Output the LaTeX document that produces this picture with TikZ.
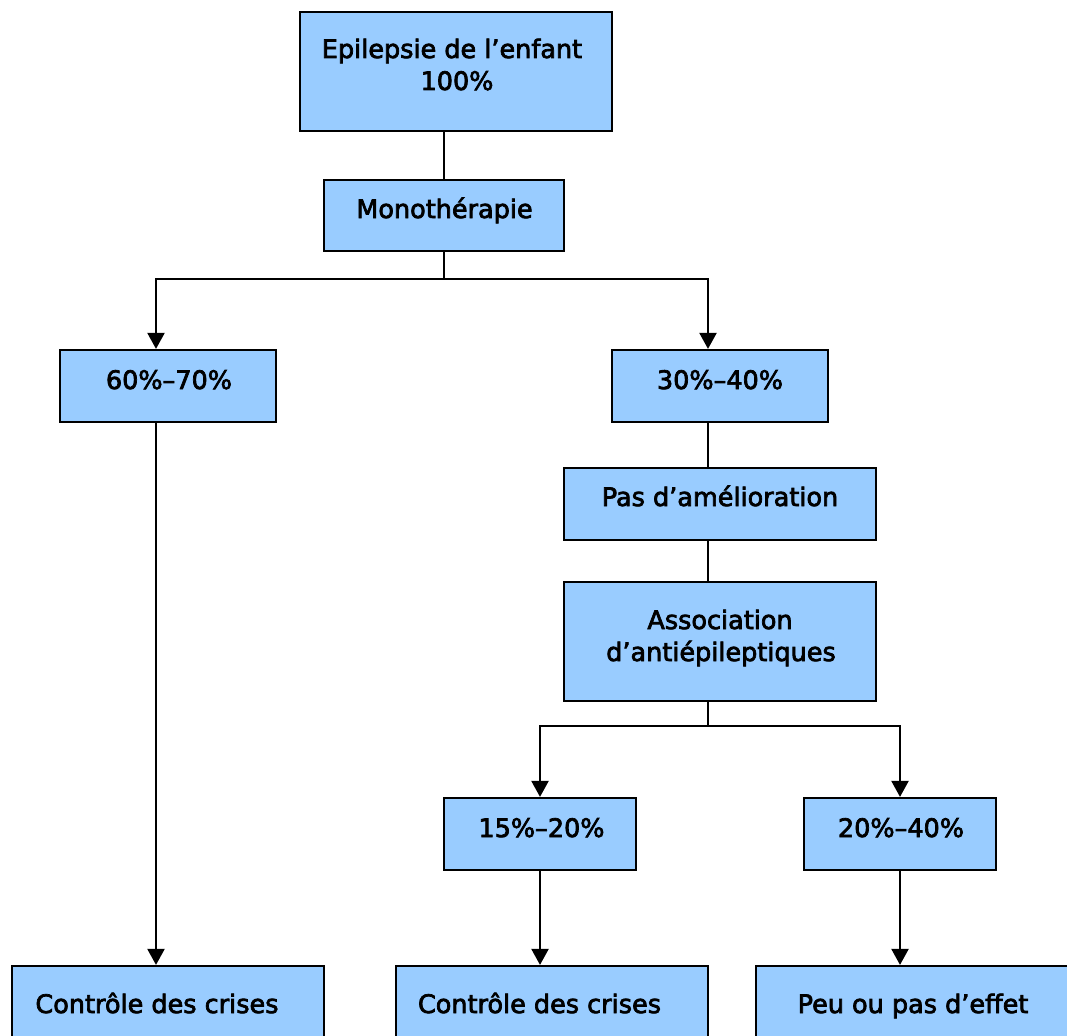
\documentclass[tikz,border=0pt]{standalone}
\usepackage{fontspec}
\setmainfont[FakeBold=2.8,UprightFeatures={FakeBold=2.8}]{DejaVu Sans}
\usetikzlibrary{arrows.meta}
\definecolor{boxblue}{RGB}{153,204,255}
\begin{document}
\begin{tikzpicture}[x=1pt,y=-1pt,
  box/.style={draw=black,line width=2.2pt,fill=boxblue,rectangle,inner sep=0pt,minimum width=#1},
  box/.default=312pt,
  lbl/.style={inner sep=0pt,anchor=base,font=\fontsize{25.5pt}{32pt}\selectfont},
  conn/.style={draw=black,line width=2.2pt},
  arr/.style={conn,-{Triangle[width=17pt,length=16pt]}}]
\useasboundingbox (0,0) rectangle (1067,1035);
\clip (0,0) rectangle (1067,1035);
% boxes
\node[box=312pt,minimum height=119pt] (top) at (456,71.5) {};
\node[box=240pt,minimum height=71pt] (mono) at (444,215.5) {};
\node[box=216pt,minimum height=72pt] (b6070) at (168,386) {};
\node[box=216pt,minimum height=72pt] (b3040) at (720,386) {};
\node[box=312pt,minimum height=72pt] (pas) at (720,504) {};
\node[box=312pt,minimum height=119pt] (assoc) at (720,641.5) {};
\node[box=192pt,minimum height=72pt] (b1520) at (540,834) {};
\node[box=192pt,minimum height=72pt] (b2040) at (900,834) {};
\node[box=312pt,minimum height=76pt] (ctl1) at (168,1004) {};
\node[box=312pt,minimum height=76pt] (ctl2) at (552,1004) {};
\node[box=312pt,minimum height=76pt] (peu) at (912,1004) {};
% labels
\node[lbl] (t1a) at (452,58) {Epilepsie de l’enfant};
\node[lbl] (t1b) at (457,90) {100\%};
\node[lbl] (t2) at (444.5,218) {Monothérapie};
\node[lbl] (t3) at (169,389) {60\%–70\%};
\node[lbl] (t4) at (720,389) {30\%–40\%};
\node[lbl] (t5) at (720,506) {Pas d’amélioration};
\node[lbl] (t6a) at (720,629) {Association};
\node[lbl] (t6b) at (721,661) {d’antiépileptiques};
\node[lbl] (t7) at (541.5,837) {15\%–20\%};
\node[lbl] (t8) at (901,837) {20\%–40\%};
\node[lbl] (t9) at (157,1013) {Contrôle des crises};
\node[lbl] (t10) at (539.5,1013) {Contrôle des crises};
\node[lbl] (t11) at (913,1013) {Peu ou pas d’effet};
% junctions
\coordinate (split1) at (444,279);
\coordinate (split2) at (708,726);
% connectors
\draw[conn] ([xshift=-12pt]top.south) -- (mono.north);
\draw[conn] (mono.south) -- (split1);
\draw[arr] (split1) -| ([xshift=-12pt]b6070.north);
\draw[arr] (split1) -| ([xshift=-12pt]b3040.north);
\draw[arr] ([xshift=-12pt]b6070.south) -- ([xshift=-12pt]ctl1.north);
\draw[conn] ([xshift=-12pt]b3040.south) -- ([xshift=-12pt]pas.north);
\draw[conn] ([xshift=-12pt]pas.south) -- ([xshift=-12pt]assoc.north);
\draw[conn] ([xshift=-12pt]assoc.south) -- (split2);
\draw[arr] (split2) -| (b1520.north);
\draw[arr] (split2) -| (b2040.north);
\draw[arr] (b1520.south) -- ([xshift=-12pt]ctl2.north);
\draw[arr] (b2040.south) -- ([xshift=-12pt]peu.north);
\end{tikzpicture}
\end{document}
